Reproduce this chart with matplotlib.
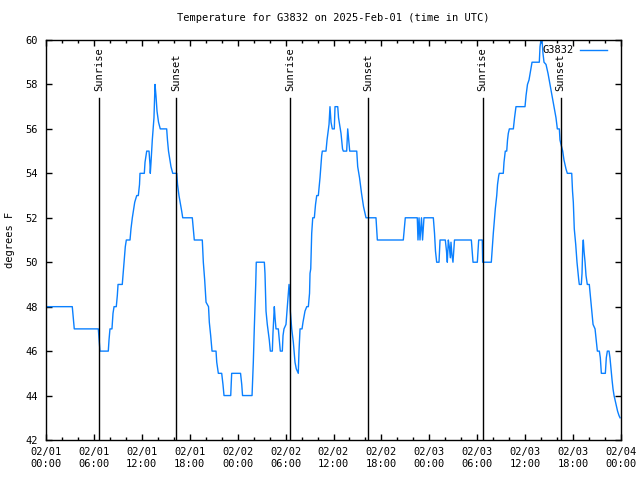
import numpy as np
import pandas as pd
import matplotlib
matplotlib.use("Agg")
import matplotlib.pyplot as plt
import matplotlib.dates as mdates
import matplotlib.transforms as mtransforms

plt.rcParams['font.family'] = ['DejaVu Sans Mono']
plt.rcParams['font.size'] = 7

# hours since 2025-02-01 00:00 UTC and temperature (degrees F)
hours = [0, 3.29, 3.54, 6.55, 6.76, 7.80, 7.89, 8.01, 8.26, 8.39, 8.52, 8.80, 8.93, 9.02,
         9.55, 9.68, 9.80, 9.93, 10.06, 10.52, 10.64, 10.81, 11.11, 11.36, 11.56, 11.71,
         11.77, 12.31, 12.40, 12.61, 12.90, 13.02, 13.06, 13.15, 13.31, 13.52, 13.65,
         13.77, 13.90, 14.09, 14.31, 15.11, 15.21, 15.34, 15.65, 15.87, 16.37, 16.47,
         16.65, 16.99, 17.12, 18.32, 18.44, 18.57, 19.57, 19.70, 19.87, 20.04, 20.35,
         20.45, 20.62, 20.79, 21.29, 21.38, 21.58, 22.00, 22.16, 22.29, 23.13, 23.25,
         24.36, 24.51, 24.61, 25.80, 25.83, 25.96, 26.08, 26.26, 26.33, 27.34, 27.42,
         27.55, 27.71, 27.96, 28.09, 28.34, 28.42, 28.59, 28.68, 28.80, 29.09, 29.21,
         29.34, 29.59, 29.68, 29.80, 30.05, 30.22, 30.43, 30.55, 30.59, 30.77, 30.97,
         31.18, 31.34, 31.59, 31.68, 31.81, 32.06, 32.18, 32.43, 32.65, 32.85, 33.00,
         33.06, 33.15, 33.27, 33.40, 33.60, 33.75, 33.90, 34.10, 34.31, 34.52, 34.60,
         35.06, 35.19, 35.44, 35.56, 35.69, 35.85, 36.10, 36.19, 36.53, 36.63, 36.94,
         37.13, 37.23, 37.65, 37.78, 37.90, 38.03, 38.91, 39.03, 39.26, 39.51, 39.76,
         39.95, 40.07, 41.32, 41.49, 44.74, 44.99, 46.49, 46.58, 46.71, 46.83, 47.02,
         47.15, 47.33, 47.50, 48.50, 48.65, 48.77, 48.92, 49.21, 49.34, 50.00, 50.15,
         50.25, 50.38, 50.50, 50.63, 50.71, 50.84, 50.96, 51.15, 53.26, 53.38, 53.47,
         54.01, 54.18, 54.43, 54.63, 54.68, 55.76, 55.89, 56.01, 56.14, 56.26, 56.44,
         56.54, 56.69, 56.76, 57.26, 57.35, 57.51, 57.69, 57.79, 57.89, 58.02, 58.52,
         58.67, 58.85, 59.98, 60.11, 60.29, 60.48, 60.67, 60.86, 61.77, 61.86, 61.98,
         62.11, 62.23, 62.36, 62.61, 62.86, 63.11, 63.36, 63.61, 63.86, 64.03, 64.28,
         64.36, 64.49, 64.70, 64.86, 65.11, 65.28, 65.83, 65.93, 66.03, 66.15, 66.33,
         66.49, 66.71, 66.78, 67.03, 67.12, 67.21, 67.28, 67.37, 67.50, 67.62, 67.78,
         68.03, 68.16, 68.33, 68.50, 68.75, 68.87, 69.04, 69.29, 69.41, 69.54, 70.04,
         70.16, 70.29, 70.50, 70.62, 70.75, 70.88, 71.00, 71.13, 71.38, 71.57, 71.75,
         71.88]
temps = [48, 48, 47, 47, 46, 46, 46.5, 47, 47, 47.7, 48, 48, 48.5, 49,
         49, 49.6, 50.1, 50.7, 51, 51, 51.5, 52, 52.7, 53, 53, 53.5,
         54, 54, 54.5, 55, 55, 54.4, 54, 54.5, 55.5, 56.5, 58,
         57.5, 56.8, 56.3, 56, 56, 55.5, 55, 54.3, 54, 54, 53.5,
         53, 52.3, 52, 52, 51.5, 51, 51, 50, 49.2, 48.2, 48,
         47.3, 46.7, 46, 46, 45.5, 45, 45, 44.5, 44, 44, 45,
         45, 44.5, 44, 44, 44.3, 45.5, 47, 49, 50, 50, 49.5,
         47.8, 47.2, 46.5, 46, 46, 46.8, 48, 47.5, 47, 47, 46.5,
         46, 46, 46.7, 47, 47.2, 48, 49, 48.4, 47.8, 47, 46.4,
         45.5, 45.2, 45, 46, 47, 47, 47.3, 47.8, 48, 48, 48.6,
         49.5, 49.7, 51.3, 52, 52, 52.6, 53, 53, 53.8, 54.8, 55,
         55, 55.5, 56.2, 57, 56.3, 56, 56, 57, 57, 56.5, 55.8,
         55.1, 55, 55, 56, 55.5, 55, 55, 54.3, 53.8, 53.1, 52.5,
         52.2, 52, 52, 51, 51, 52, 52, 51, 52, 51, 52,
         51, 52, 52, 52, 51.3, 50.5, 50, 50, 51, 51, 50.5,
         50, 51, 50.7, 50.2, 50.9, 50.3, 50, 51, 51, 50.4, 50,
         50, 51, 51, 51, 50, 50, 50.7, 51.3, 51.9, 52.4, 53,
         53.5, 53.9, 54, 54, 54.5, 55, 55, 55.5, 55.8, 56, 56,
         56.5, 57, 57, 57.5, 58, 58.2, 58.6, 59, 59, 59.7, 60,
         60, 59.4, 59, 58.9, 58.5, 58, 57.5, 57, 56.5, 56, 56,
         55.5, 55.3, 55, 54.6, 54.2, 54, 54, 53.2, 52.7, 51.5, 50.8,
         50, 49.2, 49, 49, 49.5, 50.7, 51, 50.5, 50, 49.4, 49,
         49, 48.5, 47.8, 47.2, 47, 46.6, 46, 46, 45.7, 45, 45,
         45.7, 46, 46, 45.7, 45.2, 44.7, 44.3, 44, 43.6, 43.3, 43.1,
         43]

sunrise_hours = [6.67, 30.59, 54.68]
sunset_hours = [16.32, 40.36, 64.45]

station = "G3832"
start = pd.Timestamp("2025-02-01 00:00")
times = start + pd.to_timedelta(hours, unit="h")

fig = plt.figure(figsize=(6.4, 4.8), dpi=100)
ax = fig.add_axes([46/640, 40/480, 575/640, 400/480])

ax.plot(times, temps, color='#0a80ff', lw=1, label=station)

trans = mtransforms.blended_transform_factory(ax.transData, ax.transAxes)
for lbl, hlist in (("Sunrise", sunrise_hours), ("Sunset", sunset_hours)):
    for h in hlist:
        t = start + pd.Timedelta(hours=h)
        ax.plot([t, t], [0, 0.855], color='black', lw=1, transform=trans)
        ax.text(t, 0.872, lbl, rotation=90, ha='center', va='bottom',
                transform=trans, fontsize=7.5)

ax.set_xlim(start, start + pd.Timedelta(hours=72))
ax.set_ylim(42, 60)
ax.set_yticks(np.arange(42, 61, 2))
ax.xaxis.set_major_locator(mdates.HourLocator(byhour=[0, 6, 12, 18]))
ax.xaxis.set_minor_locator(mdates.HourLocator(byhour=range(0, 24, 2)))
ax.xaxis.set_major_formatter(mdates.DateFormatter('%m/%d\n%H:%M'))
ax.tick_params(which='both', direction='in', top=True, right=True, width=1, labelsize=7.5)
ax.tick_params(which='major', length=4.5, pad=5)
ax.tick_params(which='minor', length=2.5)
ax.tick_params(axis='y', pad=6)
for s in ax.spines.values():
    s.set_linewidth(1)

ax.set_ylabel("degrees F", fontsize=7.5, labelpad=7)
ax.set_title("Temperature for G3832 on 2025-Feb-01 (time in UTC)", fontsize=7.5, pad=14)

# gnuplot-style key: text first, then the line sample
ax.legend(loc='upper right', bbox_to_anchor=(0.985, 1.0), frameon=False,
          markerfirst=False, handlelength=2.6, fontsize=7.5,
          borderaxespad=0.3, borderpad=0.2, handletextpad=0.6)

fig.savefig("out.png", dpi=100)
